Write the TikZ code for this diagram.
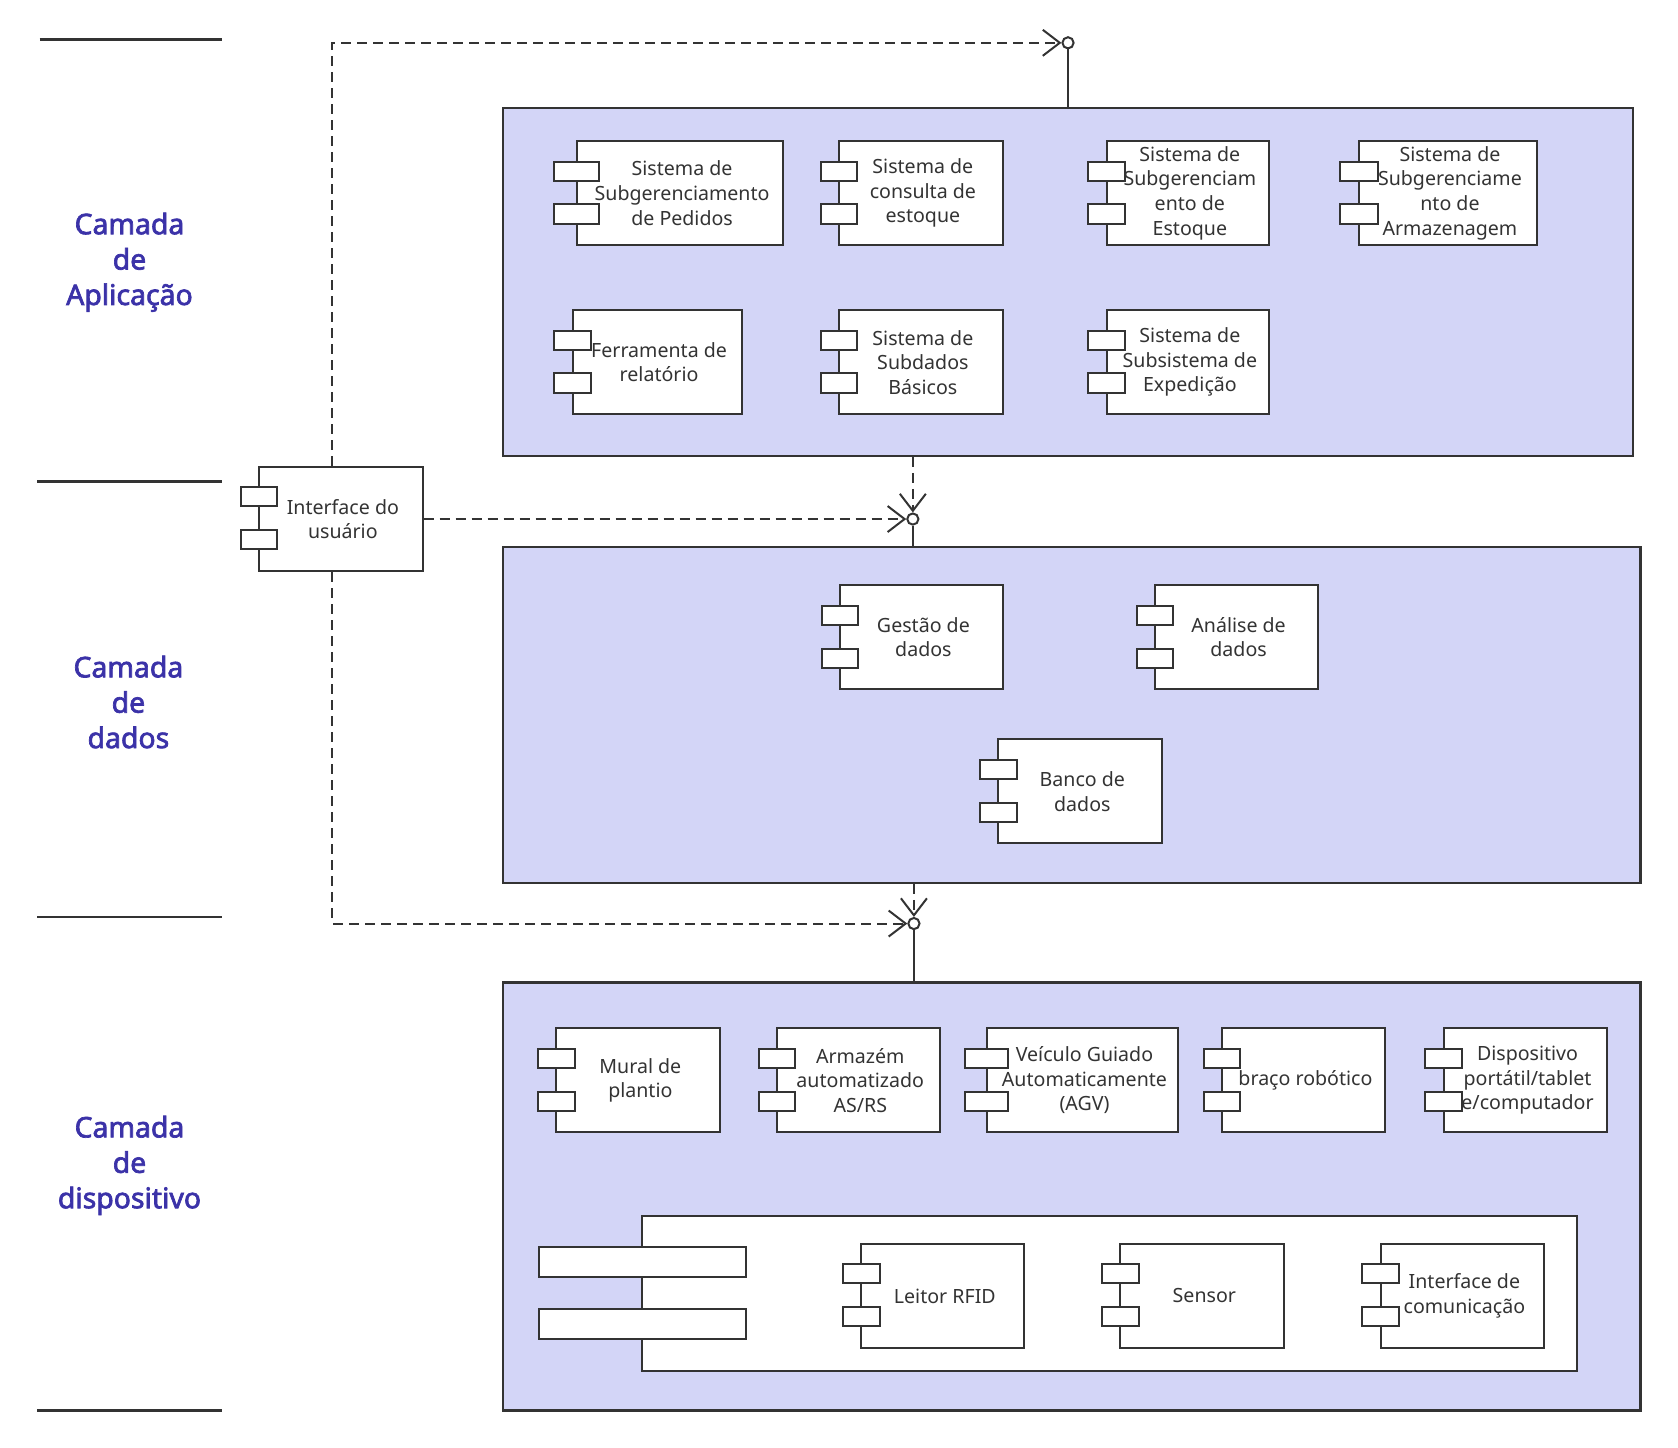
\documentclass[tikz,border=0pt]{standalone}
\usepackage{fontspec}
\setmainfont{Noto Sans}
\newfontfamily\labfont{Noto Sans}[FakeBold=2.4]
\usetikzlibrary{fit,arrows.meta,calc}
\definecolor{ln}{HTML}{333333}
\definecolor{lay}{HTML}{D3D5F7}
\definecolor{lab}{HTML}{3B32A8}
\tikzset{
  layerbox/.style={draw=ln, fill=lay, line width=1.1pt, inner sep=0pt},
  body/.style={draw=ln, fill=white, line width=1pt, inner sep=0pt},
  tabbox/.style={draw=ln, fill=white, line width=1pt, inner sep=0pt},
  ctext/.style={align=center, text=ln, font=\fontsize{9.8}{12.3}\selectfont, inner sep=0pt},
  layerlabel/.style={align=center, text=lab, font=\labfont\fontsize{14.2}{17.7}\selectfont},
  lolli/.style={circle, draw=ln, fill=white, line width=1pt, minimum size=5.6pt, inner sep=0pt},
  dep/.style={draw=ln, line width=1pt, dash pattern=on 5pt off 3pt, -{Straight Barb[length=8.5pt,width=13pt,line width=1pt]}},
  assoc/.style={draw=ln, line width=1pt},
  sepline/.style={draw=ln, line width=1.3pt}
}
\newcommand\comp[7]{%
  \node[body, fit={(#2,#3)(#4,#5)}] (#1) {};
  \node[tabbox, fit={(#2-#6,#3+19)(#2+#6,#3+37)}] (#1-a) {};
  \node[tabbox, fit={(#2-#6,#3+59)(#2+#6,#3+77)}] (#1-b) {};
  \node[ctext] (#1-t) at ([xshift=1pt]#1.center) {#7};
}
\begin{document}
\begin{tikzpicture}[x=0.5351pt, y=-0.5351pt]
\useasboundingbox (0,0) rectangle (1568,1353);

% separator lines
\draw[sepline] (37,37) -- (207,37);
\draw[sepline] (35,450) -- (207,450);
\draw[sepline] (35,857) -- (207,857);
\draw[sepline] (35,1318) -- (207,1318);

% layer labels
\node[layerlabel] (lab1) at (121,245) {Camada\\de\\Aplicação};
\node[layerlabel] (lab2) at (120,656) {Camada\\de\\dados};
\node[layerlabel] (lab3) at (121,1089) {Camada\\de\\dispositivo};

% layer boxes
\node[layerbox, fit={(470,101)(1526,426)}] (app) {};
\node[layerbox, fit={(470,511)(1533,825)}] (data) {};
\node[layerbox, fit={(470,918)(1533,1318)}] (dev) {};

% application layer
\comp{a1}{539}{132}{732}{229}{21}{Sistema de\\Subgerenciamento\\de Pedidos}
\comp{a2}{784}{132}{937}{229}{17}{Sistema de\\consulta de\\estoque}
\comp{a3}{1034}{132}{1186}{229}{17}{Sistema de\\Subgerenciam\\ento de\\Estoque}
\comp{a4}{1270}{132}{1436}{229}{18}{Sistema de\\Subgerenciame\\nto de\\Armazenagem}
\comp{a5}{535}{290}{693}{387}{17}{Ferramenta de\\relatório}
\comp{a6}{784}{290}{937}{387}{17}{Sistema de\\Subdados\\Básicos}
\comp{a7}{1034}{290}{1186}{387}{17}{Sistema de\\Subsistema de\\Expedição}

% user interface
\comp{ui}{242}{436}{395}{534}{17}{Interface do\\usuário}

% data layer
\comp{d1}{785}{547}{937}{644}{17}{Gestão de\\dados}
\comp{d2}{1079}{547}{1232}{644}{17}{Análise de\\dados}
\comp{d3}{933}{691}{1086}{788}{17}{Banco de\\dados}

% device layer
\comp{v1}{520}{961}{673}{1058}{17}{Mural de\\plantio}
\comp{v2}{726}{961}{878}{1058}{17}{Armazém\\automatizado\\AS/RS}
\comp{v3}{922}{961}{1101}{1058}{20}{Veículo Guiado\\Automaticamente\\(AGV)}
\comp{v4}{1142}{961}{1294}{1058}{17}{braço robótico}
\comp{v5}{1349}{961}{1502}{1058}{17}{Dispositivo\\portátil/tablet\\e/computador}

\node[body, fit={(600,1136)(1474,1281)}] (big) {};
\node[tabbox, fit={(504,1165)(697,1193)}] (big-a) {};
\node[tabbox, fit={(504,1223)(697,1251)}] (big-b) {};
\comp{r1}{805}{1162}{957}{1260}{17}{Leitor RFID}
\comp{r2}{1047}{1162}{1200}{1260}{17}{Sensor}
\comp{r3}{1290}{1162}{1443}{1260}{17}{Interface de\\comunicação}

% interfaces (lollipops)
\node[lolli] (l1) at (998,40) {};
\node[lolli] (l2) at (853,485) {};
\node[lolli] (l3) at (854,863) {};

\draw[assoc] (l1.south) -- (l1 |- app.north);
\draw[assoc] (l2.south) -- (l2 |- data.north);
\draw[assoc] (l3.south) -- (l3 |- dev.north);

% dependencies
\draw[dep] ([xshift=-4.3pt]ui.north) |- (l1.west);
\draw[dep] (ui.east) -- (l2.west);
\draw[dep] (l2 |- app.south) -- (l2.north);
\draw[dep] ([xshift=-4.3pt]ui.south) |- (l3.west);
\draw[dep] (l3 |- data.south) -- (l3.north);
\end{tikzpicture}
\end{document}
